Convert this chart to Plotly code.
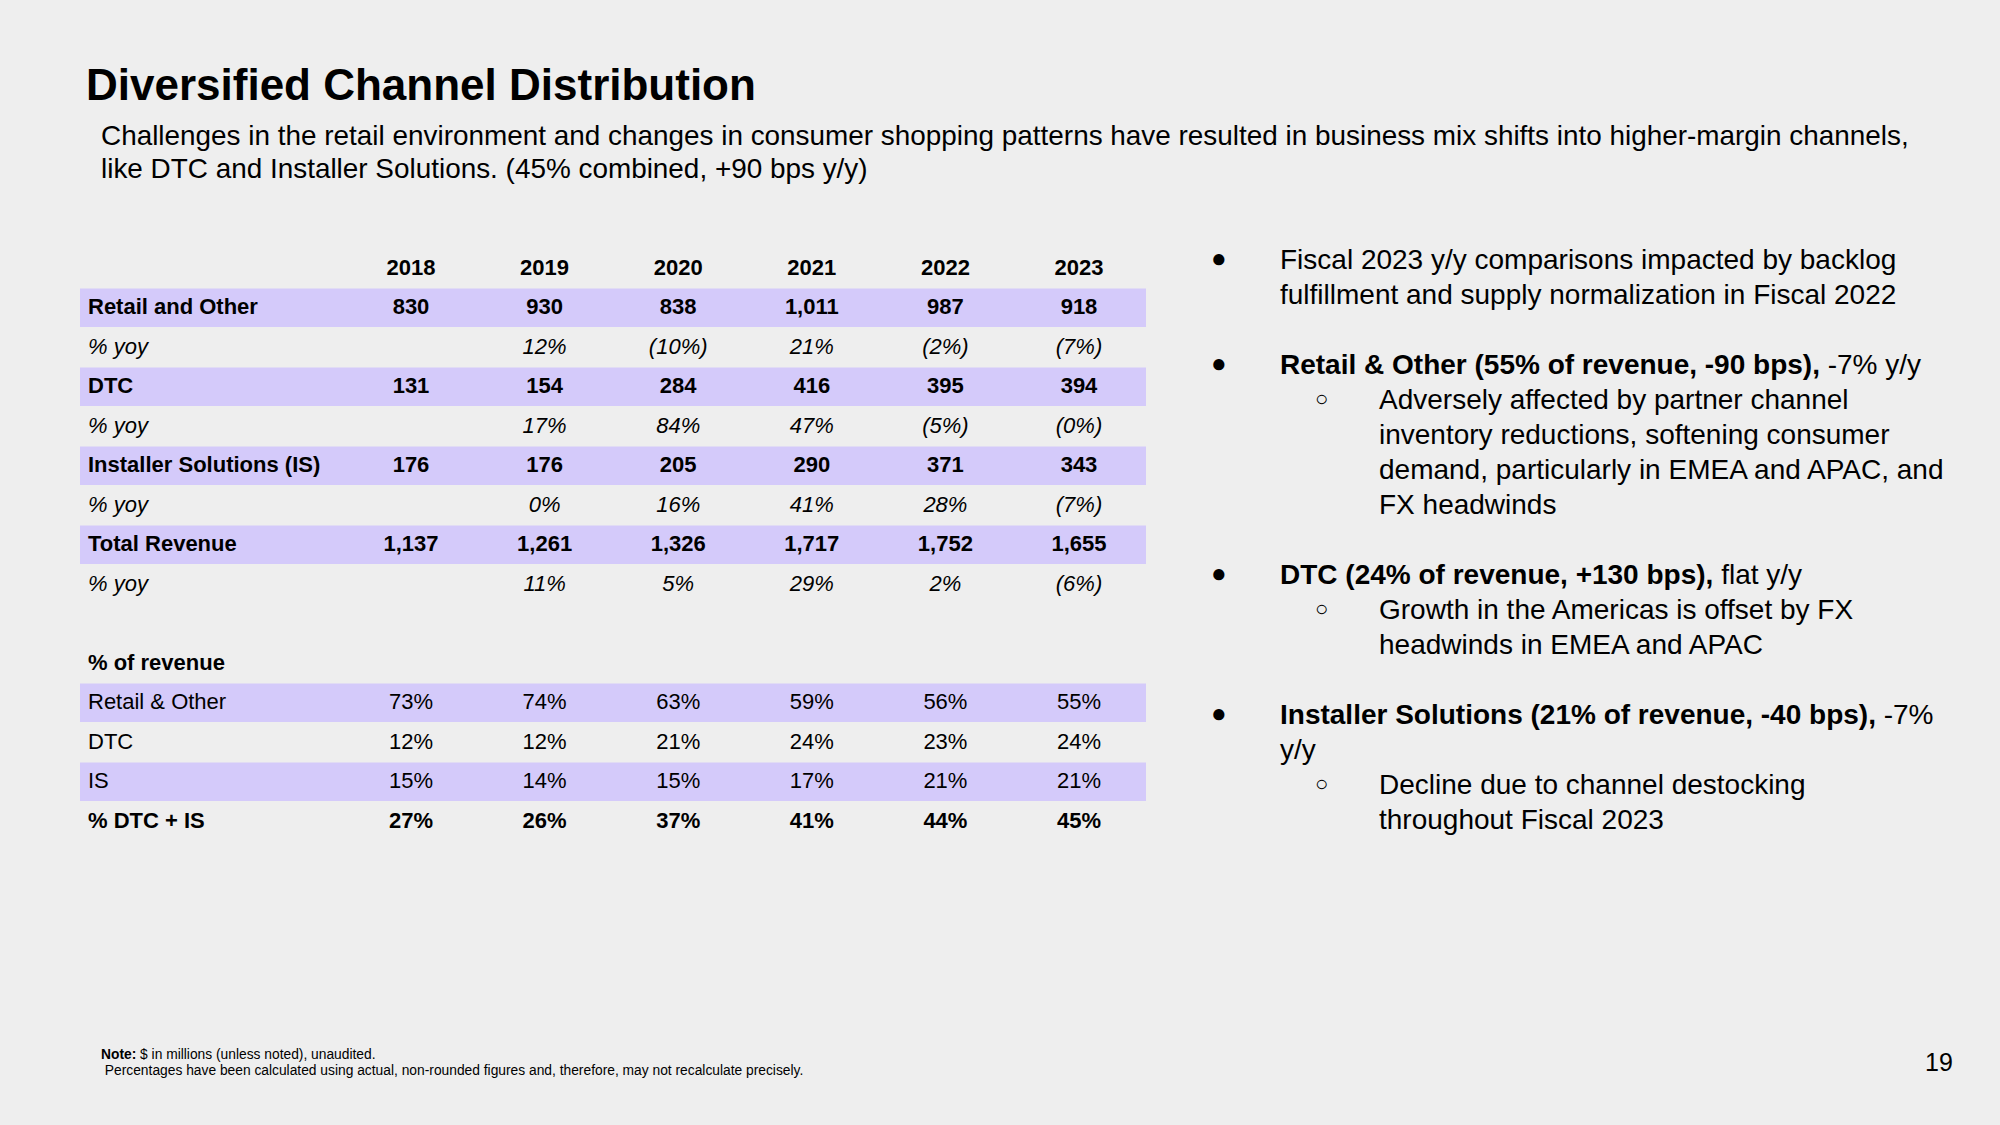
import plotly.graph_objects as go

# ---------------- data ----------------
years = ["2018", "2019", "2020", "2021", "2022", "2023"]
retail = [830, 930, 838, 1011, 987, 918]
retail_yoy = [None, 12, -10, 21, -2, -7]
dtc = [131, 154, 284, 416, 395, 394]
dtc_yoy = [None, 17, 84, 47, -5, -0.3]
inst = [176, 176, 205, 290, 371, 343]
inst_yoy = [None, 0, 16, 41, 28, -7]
total = [1137, 1261, 1326, 1717, 1752, 1655]
total_yoy = [None, 11, 5, 29, 2, -6]
share_retail = [73, 74, 63, 59, 56, 55]
share_dtc = [12, 12, 21, 24, 23, 24]
share_is = [15, 14, 15, 17, 21, 21]
share_dtc_is = [27, 26, 37, 41, 44, 45]

title = "Diversified Channel Distribution"
subtitle = [
    "Challenges in the retail environment and changes in consumer shopping patterns have resulted in business mix shifts into higher-margin channels,",
    "like DTC and Installer Solutions. (45% combined, +90 bps y/y)",
]
bullets = [
    ("main", "Fiscal 2023 y/y comparisons impacted by backlog"),
    ("cont", "fulfillment and supply normalization in Fiscal 2022"),
    ("gap", ""),
    ("main", "<b>Retail & Other (55% of revenue, -90 bps),</b> -7% y/y"),
    ("sub", "Adversely affected by partner channel"),
    ("subcont", "inventory reductions, softening consumer"),
    ("subcont", "demand, particularly in EMEA and APAC, and"),
    ("subcont", "FX headwinds"),
    ("gap", ""),
    ("main", "<b>DTC (24% of revenue, +130 bps),</b> flat y/y"),
    ("sub", "Growth in the Americas is offset by FX"),
    ("subcont", "headwinds in EMEA and APAC"),
    ("gap", ""),
    ("main", "<b>Installer Solutions (21% of revenue, -40 bps),</b> -7%"),
    ("cont", "y/y"),
    ("sub", "Decline due to channel destocking"),
    ("subcont", "throughout Fiscal 2023"),
]
note_lines = [
    "<b>Note:</b> $ in millions (unless noted), unaudited.",
    " Percentages have been calculated using actual, non-rounded figures and, therefore, may not recalculate precisely.",
]
page_number = "19"

# ---------------- layout constants ----------------
W, H = 2000, 1125
BG = "#EEEEEE"
BAND = "#D4CAFA"
INK = "#000000"
FONT = "Liberation Sans, Arial, Helvetica, sans-serif"

COL_X0, COL_PITCH = 411, 133.6
ROW_Y0, ROW_PITCH = 307.5, 39.5
LABEL_X = 86
BAND_X0, BAND_X1 = 80, 1146
col_x = [COL_X0 + j * COL_PITCH for j in range(len(years))]


def row_y(i):
    return ROW_Y0 + i * ROW_PITCH


def fmt_num(v):
    return f"{v:,}"


def fmt_pct(v):
    if v is None:
        return ""
    if v < 0:
        return f"({abs(round(v)):d}%)"
    return f"{round(v):d}%"


def fmt_share(v):
    return f"{v}%"


# rows: (label, texts, bold, italic, band)
rows = [
    ("Retail and Other", [fmt_num(v) for v in retail], True, False, True),
    ("% yoy", [fmt_pct(v) for v in retail_yoy], False, True, False),
    ("DTC", [fmt_num(v) for v in dtc], True, False, True),
    ("% yoy", [fmt_pct(v) for v in dtc_yoy], False, True, False),
    ("Installer Solutions (IS)", [fmt_num(v) for v in inst], True, False, True),
    ("% yoy", [fmt_pct(v) for v in inst_yoy], False, True, False),
    ("Total Revenue", [fmt_num(v) for v in total], True, False, True),
    ("% yoy", [fmt_pct(v) for v in total_yoy], False, True, False),
    (None, None, False, False, False),
    ("% of revenue", None, True, False, False),
    ("Retail & Other", [fmt_share(v) for v in share_retail], False, False, True),
    ("DTC", [fmt_share(v) for v in share_dtc], False, False, False),
    ("IS", [fmt_share(v) for v in share_is], False, False, True),
    ("% DTC + IS", [fmt_share(v) for v in share_dtc_is], True, False, False),
]

fig = go.Figure()
shapes = []
annotations = []

# header years
fig.add_trace(go.Scatter(
    x=col_x, y=[row_y(-1) + 1] * len(years), mode="text", text=years,
    textposition="middle center",
    textfont=dict(family=FONT, size=22, color=INK, weight="bold"),
    hoverinfo="skip",
))

for i, (label, texts, bold, italic, band) in enumerate(rows):
    if label is None:
        continue
    y = row_y(i)
    if band:
        shapes.append(dict(type="rect", xref="x", yref="y",
                           x0=BAND_X0, x1=BAND_X1, y0=y - 19, y1=y + 19.5,
                           fillcolor=BAND, line=dict(width=0), layer="below"))
    annotations.append(dict(
        x=LABEL_X, y=y - 1, xref="x", yref="y", xanchor="left", yanchor="middle",
        text=label, showarrow=False,
        font=dict(family=FONT, size=22, color=INK,
                  weight="bold" if bold else "normal",
                  style="italic" if italic else "normal"),
    ))
    if texts:
        fig.add_trace(go.Scatter(
            x=col_x, y=[y + 1] * len(texts), mode="text", text=texts,
            textposition="middle center",
            textfont=dict(family=FONT, size=22, color=INK,
                          weight="bold" if bold else "normal",
                          style="italic" if italic else "normal"),
            hoverinfo="skip",
        ))

# title & subtitle
annotations.append(dict(x=84, y=84, xref="x", yref="y", xanchor="left", yanchor="middle",
                        text=f"<b>{title}</b>", showarrow=False,
                        font=dict(family=FONT, size=44, color=INK)))
for k, line in enumerate(subtitle):
    annotations.append(dict(x=99, y=135 + k * 33, xref="x", yref="y", xanchor="left",
                            yanchor="middle", text=line, showarrow=False,
                            font=dict(family=FONT, size=27.9, color=INK)))

# right bullets
BUL_Y0, BUL_PITCH, BUL_GAP = 259, 35.0, 35.0
y = BUL_Y0
for kind, txt in bullets:
    if kind == "gap":
        y += BUL_GAP
        continue
    if kind == "main":
        annotations.append(dict(x=1219, y=y - 1, xref="x", yref="y", xanchor="center",
                                yanchor="middle", text="●", showarrow=False,
                                font=dict(family=FONT, size=26, color=INK)))
    if kind == "sub":
        annotations.append(dict(x=1321, y=y - 1, xref="x", yref="y", xanchor="center",
                                yanchor="middle", text="○", showarrow=False,
                                font=dict(family=FONT, size=22, color=INK)))
    tx = 1278 if kind in ("main", "cont") else 1377
    annotations.append(dict(x=tx, y=y, xref="x", yref="y", xanchor="left",
                            yanchor="middle", text=txt, showarrow=False,
                            font=dict(family=FONT, size=28, color=INK)))
    y += BUL_PITCH

# note
for k, line in enumerate(note_lines):
    annotations.append(dict(x=99, y=1054 + k * 16.5, xref="x", yref="y", xanchor="left",
                            yanchor="middle", text=line, showarrow=False,
                            font=dict(family=FONT, size=13.8, color=INK)))

annotations.append(dict(x=1939, y=1062, xref="x", yref="y", xanchor="center",
                        yanchor="middle", text=page_number, showarrow=False,
                        font=dict(family=FONT, size=25, color=INK)))

fig.update_layout(
    width=W, height=H,
    margin=dict(l=0, r=0, t=0, b=0, pad=0),
    paper_bgcolor=BG, plot_bgcolor=BG,
    showlegend=False,
    xaxis=dict(range=[0, W], visible=False, fixedrange=True),
    yaxis=dict(range=[H, 0], visible=False, fixedrange=True),
    shapes=shapes, annotations=annotations,
)

fig.write_html("out.html", config={"displayModeBar": False},
               post_script="document.body.style.margin='0';")
